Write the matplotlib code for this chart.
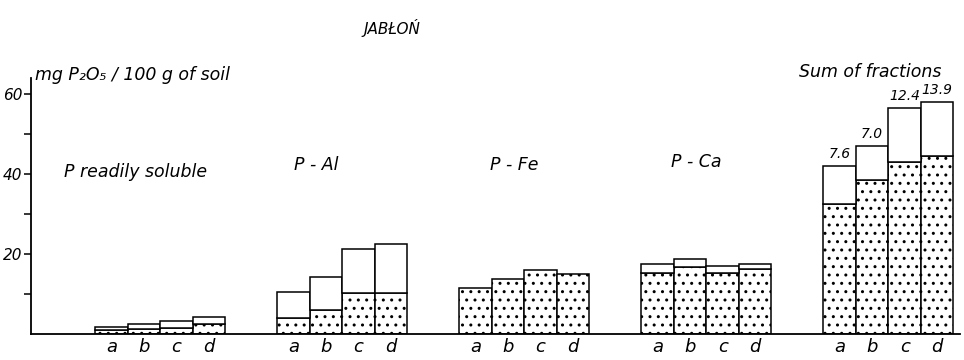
import matplotlib.pyplot as plt
import matplotlib as mpl
import numpy as np

# values in mg P2O5 / 100 g of soil
samples = ['a', 'b', 'c', 'd']
group_names = ['P readily soluble', 'P - Al', 'P - Fe', 'P - Ca']

soluble_low = [1.0, 1.2, 1.5, 2.5]
soluble_tot = [1.7, 2.5, 3.2, 4.2]
al_low = [4.0, 6.0, 10.2, 10.2]
al_tot = [10.5, 14.2, 21.2, 22.5]
fe_low = [11.5, 13.7, 16.0, 15.0]
fe_tot = [11.5, 13.7, 16.0, 15.0]
ca_low = [15.2, 16.7, 15.2, 16.2]
ca_tot = [17.5, 18.7, 17.0, 17.5]
sum_low = [32.5, 38.5, 43.0, 44.5]
sum_tot = [42.0, 47.0, 56.5, 58.0]
sum_labels = ['7.6', '7.0', '12.4', '13.9']

mpl.rcParams['hatch.linewidth'] = 1.0
mpl.rcParams['hatch.color'] = 'black'
plt.rcParams['font.family'] = ['DejaVu Sans']
plt.rcParams['font.style'] = 'italic'

fig = plt.figure(figsize=(9.64, 3.6), dpi=100)
ax = fig.add_axes([31 / 964, 26 / 360, 929 / 964, 256 / 360])

gap = 5.6
lows = [soluble_low, al_low, fe_low, ca_low, sum_low]
tots = [soluble_tot, al_tot, fe_tot, ca_tot, sum_tot]
ticks = []
for g in range(5):
    x = g * gap + np.arange(4) + 0.5
    ticks += list(x)
    ax.bar(x, lows[g], width=1.0, facecolor='white', edgecolor='black',
           hatch='..', linewidth=1.1)
    upper = np.array(tots[g]) - np.array(lows[g])
    if upper.max() > 0:
        ax.bar(x, upper, bottom=lows[g], width=1.0, facecolor='white',
               edgecolor='black', linewidth=1.1)

for i in range(4):
    x = 4 * gap + i + 0.5
    ax.text(x, sum_tot[i] + 1.2, sum_labels[i], ha='center', va='bottom',
            fontsize=10)

ax.set_xticks(ticks)
ax.set_xticklabels(samples * 5, fontsize=13)
ax.tick_params(axis='x', length=0, pad=3)

ax.set_ylim(0, 64)
ax.set_xlim(-1.97, 26.6)
ax.set_yticks([20, 40, 60])
ax.set_yticklabels(['20', '40', '60'], fontsize=11)
ax.set_yticks([10, 30, 50], minor=True)
ax.tick_params(axis='y', which='both', direction='out', length=5, width=1.1,
               pad=1)

for s in ['top', 'right']:
    ax.spines[s].set_visible(False)
ax.spines['left'].set_linewidth(1.3)
ax.spines['bottom'].set_linewidth(1.3)

label_pos = [(1.25, 40.5), (6.8, 42.2), (12.9, 42.2), (18.5, 43.0)]
for name, (lx, ly) in zip(group_names, label_pos):
    ax.text(lx, ly, name, ha='center', va='center', fontsize=12.5)

fig.text(392 / 964, 1 - 28 / 360, 'JABŁOŃ', ha='center', va='center', fontsize=11)
fig.text(870 / 964, 1 - 72 / 360, 'Sum of fractions', ha='center', va='center',
         fontsize=12.5)
fig.text(35 / 964, 1 - 75 / 360, 'mg P₂O₅ / 100 g of soil', ha='left',
         va='center', fontsize=12.5)

fig.savefig('out.png', dpi=100)
